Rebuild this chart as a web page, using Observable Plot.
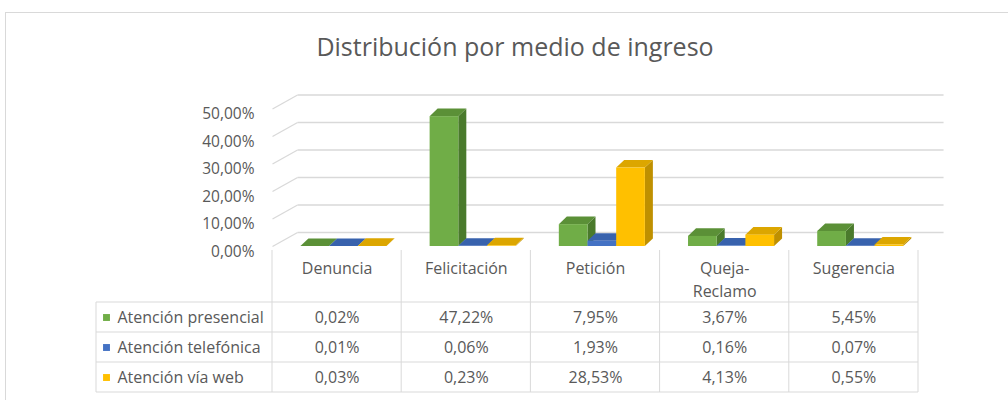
<!DOCTYPE html>
<html>
<head>
<meta charset="utf-8">
<script src="https://cdn.jsdelivr.net/npm/d3@7"></script>
<script src="https://cdn.jsdelivr.net/npm/@observablehq/plot@0.6"></script>
<style>
  html, body { margin: 0; padding: 0; background: #fff; overflow: hidden; }
  body { width: 1008px; height: 400px; position: relative; font-family: "Open Sans", sans-serif; }
  #frame { position: absolute; left: 5px; top: 12px; width: 1100px; height: 500px; border: 1px solid #d9d9d9; box-sizing: border-box; }
  #title { position: absolute; left: 0; top: 31px; width: 1030px; text-align: center; font-size: 25px; line-height: 30px; color: #595959; }
  #chart { position: absolute; left: 0; top: 0; }
</style>
</head>
<body>
<div id="frame"></div>
<div id="chart"></div>
<div id="title">Distribución por medio de ingreso</div>
<script>
const categories = ["Denuncia", "Felicitación", "Petición", "Queja-Reclamo", "Sugerencia"];
const categoryLabels = ["Denuncia", "Felicitación", "Petición", "Queja-\nReclamo", "Sugerencia"];
const seriesNames = ["Atención presencial", "Atención telefónica", "Atención vía web"];
const presencial = [0.02, 47.22, 7.95, 3.67, 5.45];
const telefonica = [0.01, 0.06, 1.93, 0.16, 0.07];
const viaWeb = [0.03, 0.23, 28.53, 4.13, 0.55];
const yTicks = [0, 10, 20, 30, 40, 50];

const seriesValues = [presencial, telefonica, viaWeb];
const frontColors = ["#70ad47", "#4472c4", "#ffc000"];
const topColors = ["#5b9037", "#3862ad", "#dca600"];
const sideColors = ["#4a7a2c", "#2e5597", "#bf9000"];

const fmt = v => v.toFixed(2).replace(".", ",") + "%";

// layout constants (in scale units)
const groupOffset = 0.22, barW = 0.222;
const bDX = 0.062, bDY = 2.75;     // bar depth offset
const gDX = 0.194, gDY = 5.1;      // wall depth offset

const bars = [];
seriesValues.forEach((vals, s) => vals.forEach((v, i) => {
  const x1 = i + groupOffset + s * barW;
  bars.push({id: s + "-" + i, s, i, v, x1, x2: x1 + barW,
    front: frontColors[s], top: topColors[s], side: sideColors[s]});
}));
const topPts = bars.flatMap(b => [
  {id: b.id, y: b.v, x1: b.x1, x2: b.x2, fill: b.top},
  {id: b.id, y: b.v + bDY, x1: b.x1 + bDX, x2: b.x2 + bDX, fill: b.top}
]);
const sidePts = bars.flatMap(b => [
  {id: b.id, x: b.x2, y1: 0, y2: b.v, fill: b.side},
  {id: b.id, x: b.x2 + bDX, y1: bDY, y2: b.v + bDY, fill: b.side}
]);

const tableRows = seriesNames.map((name, s) => ({name, s, color: frontColors[s]}));
const tableCells = seriesValues.flatMap((vals, s) => vals.map((v, i) => ({s, i, v})));

const rowDy = s => 71 + 30 * s;
const textColor = "#595959";
const tableFont = 16;

function tableGrid(index, scales) {
  const x = scales.x, y0 = scales.y(0);
  const g = d3.create("svg:g").attr("stroke", "#d9d9d9").attr("stroke-width", 1).attr("fill", "none");
  const top = y0 + 4, hdr = y0 + 56, rowH = 30, bottom = hdr + 3 * rowH;
  const left = x(0) - 176;
  for (let i = 0; i <= categories.length; i++) {
    g.append("line").attr("x1", x(i)).attr("x2", x(i)).attr("y1", top).attr("y2", bottom);
  }
  g.append("line").attr("x1", left).attr("x2", left).attr("y1", hdr).attr("y2", bottom);
  for (let k = 0; k <= 3; k++) {
    g.append("line").attr("x1", left).attr("x2", x(categories.length)).attr("y1", hdr + k * rowH).attr("y2", hdr + k * rowH);
  }
  return g.node();
}

const chart = Plot.plot({
  width: 1008,
  height: 400,
  x: {domain: [0, 5], range: [272, 918], axis: null},
  y: {domain: [0, 50], range: [246, 108.5], axis: null},
  color: {type: "identity"},
  style: {fontFamily: "'Open Sans', sans-serif", background: "transparent", overflow: "visible"},
  marks: [
    // wall gridlines
    Plot.link(yTicks, {x1: 0, y1: d => d, x2: gDX, y2: d => d + gDY, stroke: "#d9d9d9", strokeWidth: 1.3}),
    Plot.link(yTicks, {x1: gDX, y1: d => d + gDY, x2: 5 + gDX, y2: d => d + gDY, stroke: "#d9d9d9", strokeWidth: 1.3}),
    // y tick labels
    Plot.text(yTicks, {x: 0, y: d => d, dx: -18, dy: 5.5, text: fmt, textAnchor: "end", fontSize: 15.5, fill: textColor}),
    // 3D bars
    Plot.areaY(sidePts, {x: "x", y1: "y1", y2: "y2", z: "id", fill: "fill"}),
    Plot.areaX(topPts, {y: "y", x1: "x1", x2: "x2", z: "id", fill: "fill"}),
    Plot.rect(bars, {x1: "x1", x2: "x2", y1: 0, y2: "v", fill: "front"}),
    // data table
    tableGrid,
    Plot.text(categoryLabels, {x: (d, i) => i + 0.5, y: 0, dy: 10.5, text: d => d, lineAnchor: "top", lineHeight: 1.48, fontSize: tableFont, fill: textColor}),
    ...tableRows.map(r => Plot.text(tableCells, {
      filter: d => d.s === r.s, x: d => d.i + 0.5, y: 0, dy: rowDy(r.s),
      text: d => fmt(d.v), fontSize: tableFont, fill: textColor, letterSpacing: 0.4
    })),
    ...tableRows.map(r => Plot.dot([r], {x: 0, y: 0, dx: -166, dy: rowDy(r.s), symbol: "square", r: 3.9, fill: "color"})),
    ...tableRows.map(r => Plot.text([r], {x: 0, y: 0, dx: -155, dy: rowDy(r.s), text: "name", textAnchor: "start", fontSize: tableFont, fill: textColor}))
  ]
});
document.getElementById("chart").appendChild(chart);
</script>
</body>
</html>
